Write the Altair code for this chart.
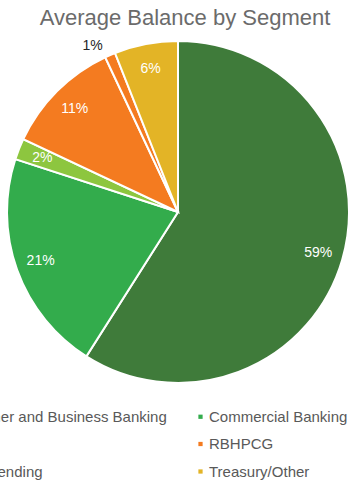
import altair as alt
import pandas as pd

segments = ["Consumer and Business Banking", "Commercial Banking", "AFCRE",
            "RBHPCG", "Home Lending", "Treasury/Other"]
shares = [59, 21, 2, 11, 1, 6]
colors = ["#3F7B3A", "#33AC4C", "#8DC63F", "#F47B20", "#F47B20", "#E3B426"]

df = pd.DataFrame({"segment": segments, "share": shares,
                   "order": list(range(len(segments)))})
df["label"] = df["share"].astype(str) + "%"

CX, CY, R = 178, 212, 171

base = alt.Chart(df).encode(
    theta=alt.Theta("share:Q", stack=True),
    order=alt.Order("order:Q"),
)

pie = base.mark_arc(stroke="white", strokeWidth=2).encode(
    x=alt.value(CX), y=alt.value(CY),
    radius=alt.value(R),
    color=alt.Color(
        "segment:N",
        sort=segments,
        scale=alt.Scale(domain=segments, range=colors),
        legend=alt.Legend(
            title=None, orient="none", legendX=-71, legendY=409,
            direction="horizontal", columns=2, columnPadding=26,
            rowPadding=11.5, symbolType="square", symbolSize=18,
            labelFont="Liberation Sans", labelFontSize=15,
            labelColor="#595959", labelLimit=400, symbolStrokeWidth=0,
            labelOffset=1,
        ),
    ),
)

inner = base.mark_text(font="Liberation Sans", fontSize=14, color="white").encode(
    x=alt.value(CX), y=alt.value(CY),
    radius=alt.value(146),
    text="label:N",
    opacity=alt.condition("datum.share >= 2", alt.value(1), alt.value(0)),
)
outer = base.mark_text(font="Liberation Sans", fontSize=14, color="#262626",
                       dx=-10, dy=8).encode(
    x=alt.value(CX), y=alt.value(CY),
    radius=alt.value(190),
    text="label:N",
    opacity=alt.condition("datum.share < 2", alt.value(1), alt.value(0)),
)

chart = (pie + inner + outer).properties(
    width=350, height=483,
    autosize=alt.AutoSizeParams(type="none"),
    padding=0,
    title=alt.TitleParams(
        "Average Balance by Segment", font="Liberation Sans", fontSize=22,
        fontWeight="normal", color="#6B6B6B", anchor="middle", offset=-30,
        dx=10,
    ),
).configure_view(stroke=None)

chart.save("out.html", embed_options={"renderer": "svg", "actions": False})
